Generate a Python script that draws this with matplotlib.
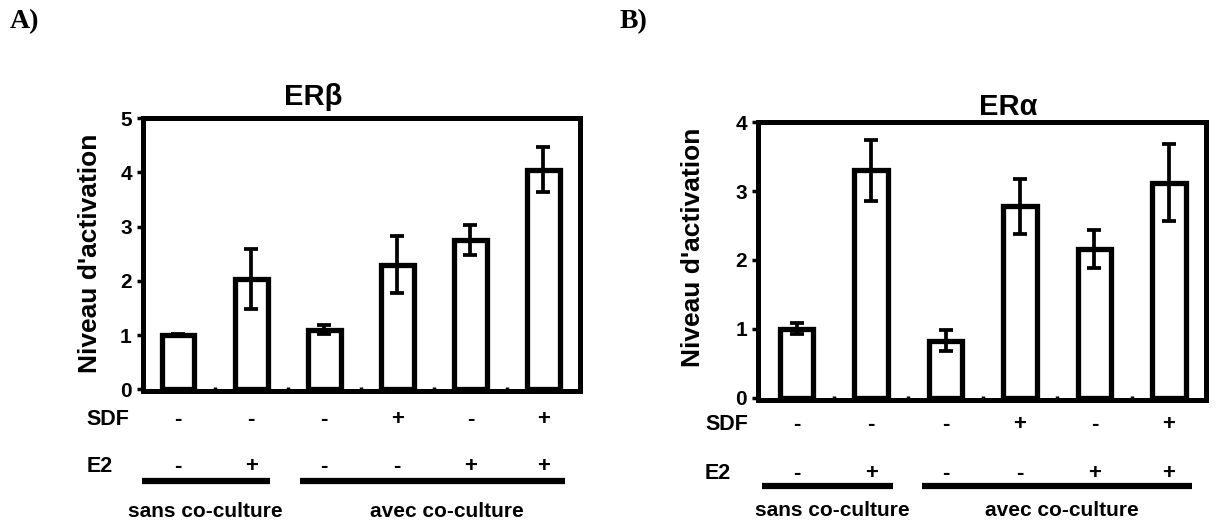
#activation bar charts ERb / ERa

import matplotlib.pyplot as plt
import numpy as np
from matplotlib.transforms import blended_transform_factory

plt.rcParams['font.family'] = ['Liberation Sans', 'DejaVu Sans']
plt.rcParams['font.weight'] = 'bold'

# data
sdf = ['-', '-', '-', '+', '-', '+']
e2 = ['-', '+', '-', '-', '+', '+']
erb_vals = [1.0, 2.03, 1.1, 2.3, 2.75, 4.05]
erb_err = [0.02, 0.55, 0.08, 0.52, 0.28, 0.42]
era_vals = [1.0, 3.3, 0.83, 2.78, 2.16, 3.12]
era_err = [0.08, 0.44, 0.15, 0.40, 0.27, 0.56]
groups = ['sans co-culture', 'avec co-culture']

fig = plt.figure(figsize=(12.22, 5.24), dpi=100)

def panel(rect, vals, errs, ymax, title, title_xy, xlim, ylab_xy, rows_y, spans, lab_x, lab_fx):
    ax = fig.add_axes(rect)
    x = np.arange(len(vals))
    ax.bar(x, vals, width=0.45, color='white', edgecolor='black', linewidth=3.8, zorder=2)
    ax.errorbar(x, vals, yerr=errs, fmt='none', ecolor='black', elinewidth=2.7,
                capsize=4.7, capthick=2.7, zorder=3)
    ax.set_xlim(*xlim)
    ax.set_ylim(-0.03, ymax)
    ax.set_yticks(np.arange(ymax + 1))
    ax.set_xticks([])
    ax.set_xticks(x[:-1] + 0.5, minor=True)
    ax.tick_params(axis='x', which='minor', direction='in', length=3, width=2.5)
    ax.tick_params(axis='y', direction='out', length=4, width=2.5, labelsize=15, pad=4)
    for s in ax.spines.values():
        s.set_linewidth(3.6)
    ax.set_ylabel("Niveau d'activation", fontsize=19, fontweight='bold')
    ax.yaxis.set_label_coords(*ylab_xy)
    fig.text(title_xy[0], title_xy[1], title, fontsize=21, fontweight='bold', ha='center', va='center')

    tr = blended_transform_factory(ax.transData, fig.transFigure)
    for i in x:
        ax.text(i, rows_y[0], sdf[i], transform=tr, ha='center', va='center', fontsize=16, clip_on=False)
        ax.text(i, rows_y[1], e2[i], transform=tr, ha='center', va='center', fontsize=16, clip_on=False)
    fig.text(lab_fx, rows_y[0], 'SDF', ha='left', va='center', fontsize=15.5)
    fig.text(lab_fx, rows_y[1], 'E2', ha='left', va='center', fontsize=15.5)
    for (a, b), name, lx in zip(spans, groups, lab_x):
        ax.plot([a, b], [rows_y[2], rows_y[2]], transform=tr, color='black', lw=4.5,
                clip_on=False, solid_capstyle='butt')
        ax.text(lx, rows_y[3], name, transform=tr, ha='center', va='center', fontsize=15, clip_on=False)
    return ax

panel([0.117, 0.2538, 0.3576, 0.521], erb_vals, erb_err, 5, 'ER\u03b2', (0.256, 0.815),
      (-0.48, 5.5), (-0.094, 0.505), (0.1985, 0.1088, 0.082, 0.023),
      [(-0.49, 1.26), (1.67, 5.30)], [0.37, 3.68], 0.071)
panel([0.6203, 0.2366, 0.3666, 0.5305], era_vals, era_err, 4, 'ER\u03b1', (0.825, 0.796),
      (-0.52, 5.5), (-0.118, 0.55), (0.189, 0.097, 0.0725, 0.0267),
      [(-0.47, 1.30), (1.69, 5.31)], [0.48, 3.56], 0.577)

fig.text(10 / 1222, 1 - 22 / 524, 'A)', family='Liberation Serif', fontweight='bold', fontsize=20, va='center')
fig.text(620 / 1222, 1 - 22 / 524, 'B)', family='Liberation Serif', fontweight='bold', fontsize=20, va='center')

plt.savefig('out.png', dpi=100)
